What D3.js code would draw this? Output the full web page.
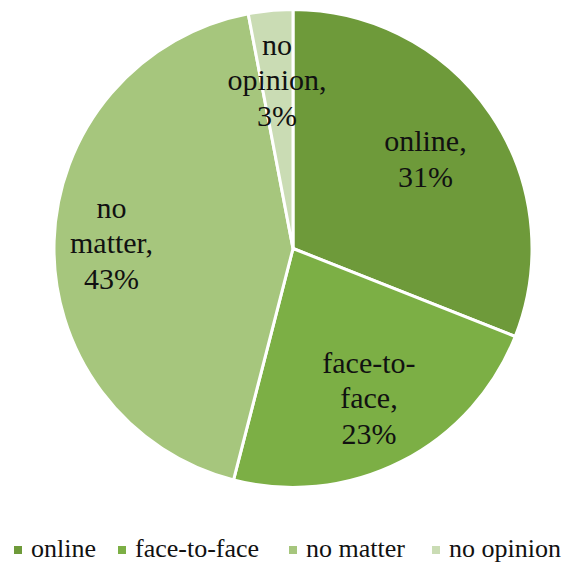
<!DOCTYPE html>
<html><head><meta charset="utf-8">
<script src="https://cdn.jsdelivr.net/npm/d3@7"></script>
<style>body{margin:0;background:#fff}svg{display:block}
text{font-family:"Liberation Serif","Times New Roman",Tinos,"DejaVu Serif",serif}</style>
</head><body>
<svg id="c" width="582" height="565"></svg>
<script>
const categories = ["online", "face-to-face", "no matter", "no opinion"];
const values = [31, 23, 43, 3];
const labelLines = [["online,", "31%"], ["face-to-", "face,", "23%"], ["no", "matter,", "43%"], ["no", "opinion,", "3%"]];
const colors = ["#6e9a3a", "#7caf45", "#a6c67d", "#cadcb4"];

const W = 582, H = 565;
const cx = 293, cy = 248.5, R = 239;
const labelR = [0.67, 0.70, 0.76, 0.71];

const svg = d3.select("#c");
const data = categories.map((c, i) => ({c, v: values[i], i}));
const pie = d3.pie().value(d => d.v).sort(null);
const arcs = pie(data);
const arc = d3.arc().innerRadius(0).outerRadius(R);
const g = svg.append("g").attr("transform", `translate(${cx},${cy})`);

g.selectAll("path").data(arcs).join("path")
  .attr("d", arc)
  .attr("fill", d => colors[d.data.i])
  .attr("stroke", "#fff").attr("stroke-width", 3).attr("stroke-linejoin", "round");

const lh = 35.5;
arcs.forEach((a, k) => {
  const la = d3.arc().innerRadius(R * labelR[k]).outerRadius(R * labelR[k]);
  const [x, y] = la.centroid(a);
  const lines = labelLines[k];
  const t = g.append("text").attr("text-anchor", "middle")
    .attr("font-size", 30).attr("fill", "#111");
  lines.forEach((ln, j) => {
    t.append("tspan").attr("x", x)
      .attr("y", y + (j - (lines.length - 1) / 2) * lh)
      .attr("dy", "0.35em").text(ln);
  });
});

// legend
const legendX = [14, 118, 289, 432];
const lg = svg.append("g");
categories.forEach((c, i) => {
  lg.append("rect").attr("x", legendX[i]).attr("y", 546).attr("width", 8).attr("height", 8).attr("fill", colors[i]);
  lg.append("text").attr("x", legendX[i] + 17).attr("y", 557)
    .attr("font-size", 26).attr("fill", "#111").text(c);
});
</script>
</body></html>
